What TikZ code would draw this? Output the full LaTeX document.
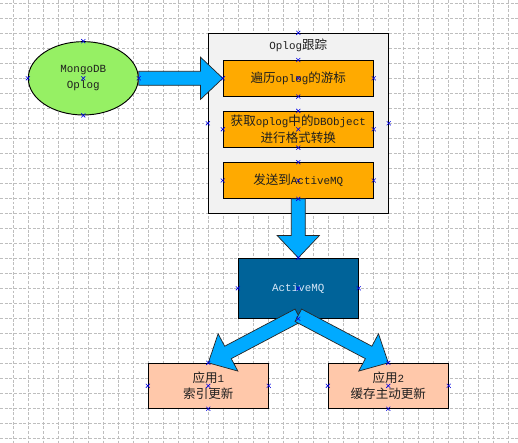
\documentclass[tikz,border=0pt]{standalone}
\usepackage{fontspec}
\setmainfont{Liberation Mono}
\newfontfamily\cjk[Scale=1.15]{Noto Sans CJK SC}
\usetikzlibrary{shapes.geometric,calc}
\newcommand{\zh}[1]{{\cjk #1}}

\definecolor{gridgray}{RGB}{190,190,190}
\definecolor{oplgreen}{RGB}{150,240,100}
\definecolor{boxgray}{RGB}{242,242,242}
\definecolor{steporange}{RGB}{255,170,0}
\definecolor{arrowblue}{RGB}{0,170,255}
\definecolor{mqblue}{RGB}{0,99,153}
\definecolor{mqtext}{RGB}{216,232,248}
\definecolor{apppeach}{RGB}{255,200,170}
\definecolor{handleblue}{RGB}{0,0,230}

\newcommand{\shafthw}{6pt}
\newcommand{\headhw}{18pt}
\newcommand{\headlen}{19pt}
% block arrow from #1 to #2
\newcommand{\fatarrow}[2]{%
  \coordinate (fah) at ($(#2)!\headlen!(#1)$);
  \draw[fatarrow] ($(#1)!\shafthw!90:(#2)$) -- ($(fah)!\shafthw!-90:(#1)$)
    -- ($(fah)!\headhw!-90:(#1)$) -- (#2) -- ($(fah)!\headhw!90:(#1)$)
    -- ($(fah)!\shafthw!90:(#1)$) -- ($(#1)!\shafthw!-90:(#2)$) -- cycle;}

\tikzset{
  gridline/.style={gridgray, line width=0.5pt, dash pattern=on 2.5pt off 1.5pt},
  txt/.style={font=\fontsize{9.3}{14}\selectfont, text=black!88, align=center},
  stepbox/.style={txt, draw, fill=steporange, line width=0.8pt, minimum width=4.5cm, minimum height=1.07cm},
  appbox/.style={txt, draw, fill=apppeach, line width=0.8pt, minimum width=3.6cm, minimum height=1.35cm},
  fatarrow/.style={draw=black!85, fill=arrowblue, line width=0.6pt, line join=miter},
  handle/.style={handleblue, line width=0.5pt},
}

\begin{document}
\begin{tikzpicture}[x=0.03cm, y=-0.03cm]
    \useasboundingbox (0,0) rectangle (518,443);
    \fill[white] (0,0) rectangle (518,443);
    \foreach \x in {13.3,28.3,...,510} \draw[gridline] (\x,0) -- (\x,443);
    \foreach \y in {3.3,18.3,...,440} \draw[gridline] (0,\y) -- (518,\y);

    % Oplog tracking container
    \node[draw, fill=boxgray, line width=0.8pt, minimum width=5.4cm, minimum height=5.4cm] (track) at (298.3,123.3) {};
    \node[txt] (title) at (298.3,45) {Oplog\zh{跟踪}};
    \foreach \a in {north,west,east} \draw[handle] (track.\a) +(-2,-2) -- +(2,2) +(-2,2) -- +(2,-2);

    \node[ellipse, txt, draw, fill=oplgreen, line width=0.8pt, minimum width=3.3cm, minimum height=2.2cm, inner sep=0pt] (ell) at (83.3,78.3) {MongoDB\\Oplog};

    \node[stepbox] (b1) at (298.3,78.3) {\zh{遍历}oplog\zh{的游标}};
    \node[stepbox] (b2) at (298.3,129.3) {\zh{获取}oplog\zh{中的}DBObject\\\zh{进行格式转换}};
    \node[stepbox] (b3) at (298.3,180.5) {\zh{发送到}ActiveMQ};

    \node[txt, draw, fill=mqblue, text=mqtext, line width=0.8pt, minimum width=3.6cm, minimum height=1.8cm] (mq) at (298.3,288.3) {ActiveMQ};

    \node[appbox] (app1) at (208.3,385.8) {\zh{应用}1\\\zh{索引更新}};
    \node[appbox] (app2) at (388.3,385.8) {\zh{应用}2\\\zh{缓存主动更新}};

    % block arrows
    \fatarrow{ell.east}{b1.west}
    \fatarrow{b3.south}{mq.north}
    \coordinate (fork) at ([yshift=3pt]mq.south);
    \fatarrow{fork}{app1.north}
    \fatarrow{fork}{app2.north}

    % selection handles
    \foreach \n in {ell,b1,b2,b3,mq,app1,app2}
      \foreach \a in {north,south,east,west,center}
        \draw[handle] (\n.\a) +(-2,-2) -- +(2,2) +(-2,2) -- +(2,-2);
\end{tikzpicture}
\end{document}
